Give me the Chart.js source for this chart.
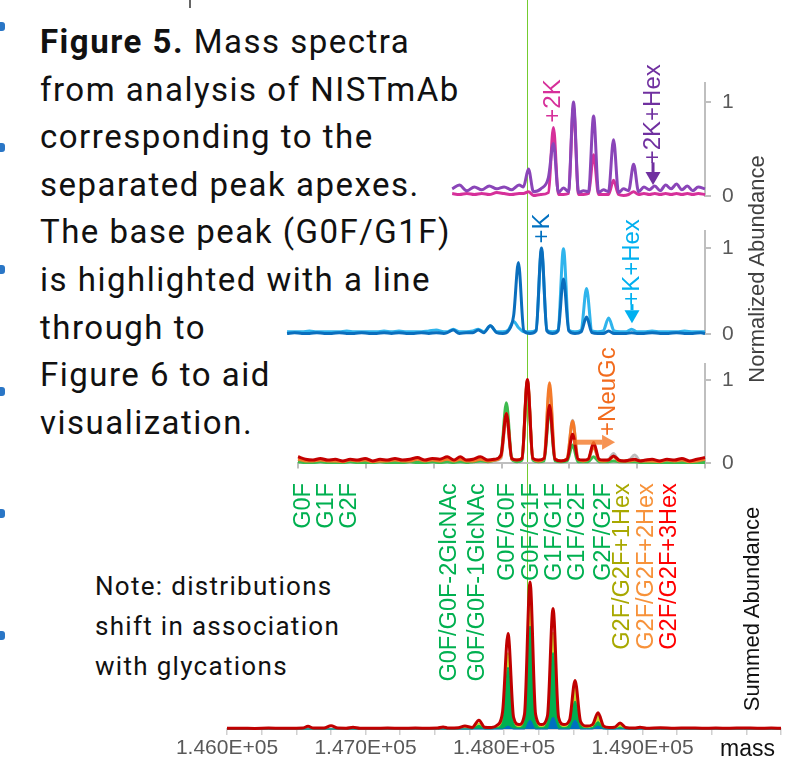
<!DOCTYPE html>
<html>
<head>
<meta charset="utf-8">
<script src="https://cdn.jsdelivr.net/npm/chart.js@4.4.0/dist/chart.umd.min.js"></script>
<style>
  body { margin: 0; background: #fff; }
  #page { position: relative; width: 796px; height: 775px; overflow: hidden; font-family: Roboto, sans-serif; }
  #page canvas { position: absolute; }
  #caption { position: absolute; left: 40px; top: 18px; font-size: 33px; line-height: 47.6px; letter-spacing: 1.5px; color: #111; white-space: nowrap; }
  #caption b { font-weight: 700; }
  #note { position: absolute; left: 95px; top: 566px; font-size: 26px; line-height: 40px; letter-spacing: 1.3px; color: #111; white-space: nowrap; }
  .vtitle { position: absolute; font-family: 'Liberation Sans', Arial, sans-serif; font-size: 22px; white-space: nowrap; transform: translate(-50%, -50%) rotate(-90deg); }
  .mark { position: absolute; left: 0; width: 5px; height: 9px; border-radius: 0 3px 3px 0; background: #2a76c6; }
  #hl { position: absolute; top: 0; width: 1px; height: 729px; background: #74cc30; }
</style>
</head>
<body>
<div id="page">
  <div id="hl"></div>
  <div style="position:absolute;left:189px;top:0;width:2px;height:8px;background:#666"></div>
  <div class="mark" style="top:22px"></div>
  <div class="mark" style="top:143px"></div>
  <div class="mark" style="top:265px"></div>
  <div class="mark" style="top:387px"></div>
  <div class="mark" style="top:509px"></div>
  <div class="mark" style="top:631px"></div>

  <div id="caption"><b>Figure 5.</b> Mass spectra<br>from analysis of NISTmAb<br>corresponding to the<br>separated peak apexes.<br>The base peak (G0F/G1F)<br>is highlighted with a line<br>through to<br>Figure 6 to aid<br>visualization.</div>
  <div id="note">Note: distributions<br>shift in association<br>with glycations</div>

  <canvas id="p1" width="495" height="167" style="left:270px;top:53px"></canvas>
  <canvas id="p2" width="495" height="151" style="left:270px;top:207px"></canvas>
  <canvas id="p3" width="482" height="147" style="left:283px;top:340px"></canvas>
  <canvas id="sum" width="629" height="297" style="left:167px;top:478px"></canvas>

  <div class="vtitle" style="left:757px;top:269px;color:#404040">Normalized Abundance</div>
  <div class="vtitle" style="left:752px;top:609px;color:#111">Summed Abundance</div>
  <div style="position:absolute;left:720px;top:735px;font-family:'Liberation Sans',Arial,sans-serif;font-size:23px;color:#111">mass</div>
</div>

<script>
// ---- top panel: +2K forms (mass in Da, normalized abundance) ----
const massP1 = [147637, 147690, 147745, 147800, 147855, 147910, 147965, 148020, 148075, 148130, 148162, 148199,
  148236, 148290, 148346, 148383, 148420, 148457, 148494, 148531, 148568, 148605, 148642, 148679, 148716, 148752,
  148789, 148826, 148863, 148900, 148937, 148974, 149011, 149050, 149090, 149130, 149170, 149210, 149250, 149290,
  149330, 149370, 149410, 149450, 149500];
const p1Purple = [0.08, 0.12, 0.06, 0.10, 0.07, 0.11, 0.08, 0.10, 0.07, 0.12, 0.10, 0.29,
  0.05, 0.08, 0.20, 0.56, 0.04, 0.09, 0.05, 1.00, 0.04, 0.06, 0.05, 0.85, 0.04, 0.07,
  0.05, 0.60, 0.04, 0.08, 0.06, 0.34, 0.05, 0.10, 0.07, 0.11, 0.06, 0.12, 0.08, 0.13,
  0.07, 0.11, 0.06, 0.10, 0.08];
const p1Magenta = [0.03, 0.02, 0.03, 0.02, 0.03, 0.02, 0.04, 0.03, 0.02, 0.03, 0.03, 0.05,
  0.01, 0.02, 0.04, 0.73, 0.02, 0.02, 0.03, 0.95, 0.02, 0.02, 0.03, 0.44, 0.02, 0.02,
  0.02, 0.17, 0.02, 0.01, 0.02, 0.05, 0.02, 0.03, 0.02, 0.03, 0.02, 0.03, 0.02, 0.03,
  0.02, 0.03, 0.02, 0.03, 0.02];

// ---- middle panel: +K forms ----
const massP2 = [146420, 146475, 146530, 146585, 146640, 146695, 146750, 146805, 146860, 146915, 146970, 147025,
  147080, 147135, 147190, 147245, 147300, 147355, 147410, 147465, 147520, 147575,
  147600, 147645, 147690, 147740, 147790, 147829, 147870, 147918, 147965, 148010, 148050, 148090, 148125, 148165,
  148210, 148255, 148295, 148335, 148376, 148417, 148457, 148497, 148542, 148587, 148627, 148667, 148710, 148750,
  148790, 148830, 148875, 148919, 148959, 148999,
  149050, 149110, 149170, 149230, 149290, 149350, 149410, 149470, 149500];
const p2Dark = [0.01, 0.02, 0.01, 0.01, 0.02, 0.01, 0.01, 0.02, 0.01, 0.01, 0.02, 0.01,
  0.01, 0.02, 0.01, 0.02, 0.01, 0.01, 0.02, 0.01, 0.02, 0.01,
  0.02, 0.05, 0.01, 0.02, 0.02, 0.05, 0.02, 0.10, 0.02, 0.01, 0.04, 0.22, 0.83, 0.04,
  0.01, 0.04, 1.00, 0.04, 0.01, 0.04, 0.64, 0.04, 0.01, 0.03, 0.20, 0.02, 0.01, 0.01,
  0.04, 0.01, 0.01, 0.01, 0.02, 0.01,
  0.01, 0.02, 0.01, 0.01, 0.02, 0.01, 0.01, 0.02, 0.01];
const p2Light = [0.03, 0.03, 0.03, 0.04, 0.03, 0.03, 0.03, 0.03, 0.04, 0.03, 0.03, 0.03,
  0.03, 0.04, 0.03, 0.04, 0.03, 0.03, 0.03, 0.04, 0.05, 0.03,
  0.03, 0.06, 0.03, 0.03, 0.04, 0.06, 0.03, 0.10, 0.03, 0.03, 0.05, 0.15, 0.08, 0.03,
  0.03, 0.05, 0.97, 0.05, 0.03, 0.05, 0.99, 0.05, 0.03, 0.05, 0.53, 0.04, 0.03, 0.04,
  0.19, 0.04, 0.03, 0.03, 0.06, 0.03,
  0.03, 0.04, 0.03, 0.03, 0.03, 0.04, 0.03, 0.03, 0.03];

// ---- lower panel: NeuGc / glycoform forms ----
const massP3 = [146500, 146555, 146610, 146665, 146720, 146775, 146830, 146885, 146940, 146995, 147050, 147105,
  147160, 147215, 147270, 147325, 147380, 147435, 147490, 147545, 147600,
  147650, 147696, 147740, 147790, 147844, 147900, 147950, 147996, 148036, 148076, 148114, 148151, 148191, 148231,
  148272, 148314, 148354, 148394, 148439, 148484, 148524, 148564, 148602, 148639, 148679, 148719, 148752, 148786,
  148826, 148866, 148903, 148941, 148981, 149021, 149060,
  149110, 149165, 149220, 149275, 149330, 149385, 149440, 149500];
const p3Red = [0.08, 0.05, 0.04, 0.06, 0.04, 0.05, 0.03, 0.05, 0.04, 0.06, 0.03, 0.05,
  0.04, 0.06, 0.04, 0.05, 0.07, 0.04, 0.06, 0.05, 0.08,
  0.04, 0.08, 0.04, 0.05, 0.08, 0.04, 0.05, 0.10, 0.60, 0.06, 0.04, 0.06, 1.01, 0.06,
  0.04, 0.06, 0.70, 0.05, 0.03, 0.05, 0.35, 0.05, 0.04, 0.05, 0.25, 0.05, 0.04, 0.04,
  0.09, 0.04, 0.03, 0.04, 0.05, 0.03, 0.04,
  0.05, 0.03, 0.05, 0.04, 0.06, 0.03, 0.05, 0.07];
const p3Orange = [0.05, 0.03, 0.03, 0.04, 0.03, 0.03, 0.02, 0.04, 0.03, 0.04, 0.02, 0.03,
  0.03, 0.04, 0.03, 0.03, 0.05, 0.03, 0.04, 0.03, 0.05,
  0.03, 0.05, 0.03, 0.03, 0.05, 0.03, 0.04, 0.08, 0.60, 0.05, 0.04, 0.06, 1.00, 0.06,
  0.03, 0.06, 0.97, 0.06, 0.03, 0.06, 0.51, 0.05, 0.03, 0.05, 0.20, 0.04, 0.03, 0.04,
  0.08, 0.03, 0.03, 0.03, 0.04, 0.03, 0.03,
  0.03, 0.02, 0.04, 0.03, 0.04, 0.02, 0.03, 0.05];
const p3Green = [0.02, 0.01, 0.01, 0.02, 0.01, 0.01, 0.01, 0.02, 0.01, 0.01, 0.01, 0.02,
  0.01, 0.01, 0.01, 0.02, 0.01, 0.01, 0.02, 0.01, 0.02,
  0.01, 0.02, 0.01, 0.02, 0.03, 0.02, 0.04, 0.10, 0.73, 0.05, 0.02, 0.04, 0.98, 0.04,
  0.02, 0.03, 0.65, 0.03, 0.02, 0.03, 0.22, 0.02, 0.02, 0.02, 0.08, 0.02, 0.02, 0.02,
  0.03, 0.02, 0.02, 0.02, 0.02, 0.01, 0.01,
  0.01, 0.01, 0.01, 0.01, 0.01, 0.01, 0.01, 0.01];
const p3Gray = [0.02, 0.03, 0.02, 0.02, 0.03, 0.02, 0.02, 0.02, 0.03, 0.02, 0.02, 0.03,
  0.02, 0.02, 0.03, 0.02, 0.02, 0.03, 0.02, 0.02, 0.03,
  0.02, 0.03, 0.02, 0.02, 0.04, 0.02, 0.03, 0.06, 0.55, 0.05, 0.03, 0.05, 0.95, 0.05,
  0.03, 0.05, 0.90, 0.05, 0.03, 0.05, 0.52, 0.05, 0.03, 0.04, 0.20, 0.04, 0.03, 0.04,
  0.12, 0.03, 0.03, 0.04, 0.10, 0.03, 0.02,
  0.02, 0.03, 0.02, 0.02, 0.03, 0.02, 0.02, 0.03];

// ---- summed spectrum (relative to the G0F/G1F apex) ----
const massSum = [146000, 146100, 146200, 146300, 146400, 146500, 146545, 146585, 146625, 146700, 146751, 146800,
  146860, 146910, 146960, 147060, 147160, 147260, 147360, 147460, 147520, 147560, 147600, 147670, 147718, 147770,
  147819, 147860, 147910, 147950, 147990, 148029, 148069, 148108, 148148, 148188, 148228, 148270, 148314, 148354,
  148394, 148433, 148473, 148513, 148553, 148596, 148639, 148679, 148719, 148758, 148798, 148838, 148878, 148940,
  148982, 149030, 149130, 149230, 149330, 149430, 149530, 149630, 149730, 149830, 149930, 150000];
const sumTotal = [0.005, 0.005, 0.004, 0.006, 0.005, 0.005, 0.006, 0.018, 0.006, 0.006, 0.022, 0.006,
  0.005, 0.012, 0.005, 0.005, 0.006, 0.005, 0.006, 0.005, 0.006, 0.014, 0.006, 0.008, 0.020, 0.010,
  0.060, 0.012, 0.010, 0.025, 0.120, 0.650, 0.080, 0.030, 0.100, 1.000, 0.100, 0.030, 0.090, 0.820,
  0.080, 0.030, 0.060, 0.330, 0.050, 0.020, 0.030, 0.110, 0.020, 0.010, 0.012, 0.040, 0.010, 0.006,
  0.012, 0.005, 0.008, 0.005, 0.007, 0.005, 0.006, 0.005, 0.007, 0.005, 0.006, 0.005];
const sumYellow = [0, 0, 0, 0, 0, 0, 0, 0, 0, 0, 0, 0,
  0, 0, 0, 0, 0, 0, 0, 0, 0, 0, 0, 0, 0.010, 0,
  0.040, 0.006, 0.005, 0.015, 0.090, 0.520, 0.060, 0.020, 0.080, 0.860, 0.080, 0.020, 0.070, 0.660,
  0.060, 0.020, 0.050, 0.280, 0.040, 0.010, 0.020, 0.090, 0.010, 0.005, 0.006, 0.030, 0.005, 0,
  0.006, 0, 0, 0, 0, 0, 0, 0, 0, 0, 0, 0];
const sumGreen = [0, 0, 0, 0, 0, 0, 0, 0, 0, 0, 0, 0,
  0, 0, 0, 0, 0, 0, 0, 0, 0, 0, 0, 0, 0, 0,
  0.025, 0, 0, 0.010, 0.050, 0.420, 0.040, 0.010, 0.050, 0.700, 0.050, 0.010, 0.050, 0.520,
  0.040, 0.010, 0.035, 0.190, 0.025, 0.005, 0.010, 0.050, 0.005, 0, 0, 0.012, 0, 0,
  0, 0, 0, 0, 0, 0, 0, 0, 0, 0, 0, 0];
const sumBlue = [0, 0, 0, 0, 0, 0, 0, 0, 0, 0, 0, 0,
  0, 0, 0, 0, 0, 0, 0, 0, 0, 0, 0, 0, 0, 0,
  0, 0, 0, 0, 0, 0.020, 0, 0, 0, 0.060, 0, 0, 0, 0.080,
  0, 0, 0, 0.060, 0, 0, 0, 0.020, 0, 0, 0, 0, 0, 0,
  0, 0, 0, 0, 0, 0, 0, 0, 0, 0, 0, 0];

// glycoform labels over the summed spectrum
const glyLabels = ['G0F', 'G1F', 'G2F', 'G0F/G0F-2GlcNAc', 'G0F/G0F-1GlcNAc', 'G0F/G0F', 'G0F/G1F',
  'G1F/G1F', 'G1F/G2F', 'G2F/G2F', 'G2F/G2F+1Hex', 'G2F/G2F+2Hex', 'G2F/G2F+3Hex'];
const glyMass = [146549, 146715, 146888, 147610, 147812, 148022, 148202, 148368, 148534, 148715, 148859, 149032, 149198];
const glyColors = ['#00b050', '#00b050', '#00b050', '#00b050', '#00b050', '#00b050', '#00b050',
  '#00b050', '#00b050', '#00b050', '#a8a800', '#f7923a', '#ff0000'];

const normTicks = [0, 1];
const massTickLabels = [146000, 147000, 148000, 149000];
const baseMass = 148191; // G0F/G1F apex, highlighted with the vertical line

Chart.defaults.font.family = "'Liberation Sans', Arial, sans-serif";
Chart.defaults.animation = false;

const xy = (xs, ys) => xs.map((x, i) => ({ x: x, y: ys[i] }));

function trace(xs, ys, color, more) {
  return Object.assign({
    data: xy(xs, ys), borderColor: color, backgroundColor: color, borderWidth: 3,
    pointRadius: 0, cubicInterpolationMode: 'monotone', fill: false, clip: false
  }, more || {});
}

// rotated text + arrows, placed in data units through the chart scales
function notes(labels, arrows, font) {
  return {
    id: 'notes',
    afterDatasetsDraw(chart) {
      const ctx = chart.ctx, sx = chart.scales.x, sy = chart.scales.y;
      ctx.save();
      arrows.forEach(a => {
        const x1 = sx.getPixelForValue(a.x1), y1 = sy.getPixelForValue(a.y1);
        const x2 = sx.getPixelForValue(a.x2), y2 = sy.getPixelForValue(a.y2);
        const ang = Math.atan2(y2 - y1, x2 - x1), c = Math.cos(ang), s = Math.sin(ang);
        const hl = 13, hw = 7.5;
        ctx.strokeStyle = a.color; ctx.fillStyle = a.color; ctx.lineWidth = a.width;
        ctx.beginPath(); ctx.moveTo(x1, y1); ctx.lineTo(x2 - hl * c, y2 - hl * s); ctx.stroke();
        ctx.beginPath(); ctx.moveTo(x2, y2);
        ctx.lineTo(x2 - hl * c - hw * s, y2 - hl * s + hw * c);
        ctx.lineTo(x2 - hl * c + hw * s, y2 - hl * s - hw * c);
        ctx.closePath(); ctx.fill();
      });
      labels.forEach(l => {
        ctx.save();
        ctx.translate(sx.getPixelForValue(l.x), sy.getPixelForValue(l.y));
        ctx.rotate(-Math.PI / 2);
        ctx.font = font;
        ctx.fillStyle = l.color;
        ctx.textAlign = l.align || 'left';
        ctx.textBaseline = 'middle';
        ctx.fillText(l.text, 0, 0);
        ctx.restore();
      });
      ctx.restore();
    }
  };
}

function normAxis() {
  return {
    position: 'right', min: 0, max: 1.2,
    afterFit: s => { s.width = 60; },
    afterBuildTicks: s => { s.ticks = normTicks.map(v => ({ value: v })); },
    border: { color: '#bfbfbf', width: 2 },
    grid: { drawOnChartArea: false, tickLength: 6, color: '#bfbfbf', lineWidth: 2 },
    ticks: { padding: 11, color: '#595959', font: { size: 21 } }
  };
}

const noLegend = { legend: { display: false }, tooltip: { enabled: false } };

new Chart(document.getElementById('p1'), {
  type: 'line',
  data: { datasets: [trace(massP1, p1Purple, '#8a45b8'), trace(massP1, p1Magenta, '#d6309a')] },
  options: {
    responsive: false, plugins: noLegend,
    layout: { padding: { left: 15, top: 30, right: 0, bottom: 15 } },
    scales: { x: { type: 'linear', min: 146405, max: 149500, display: false }, y: normAxis() }
  },
  plugins: [notes(
    [{ text: '+2K', x: 148380, y: 0.78, color: '#d6309a' },
     { text: '+2K+Hex', x: 149117, y: 0.34, color: '#7030a0' }],
    [{ x1: 149117, y1: 0.36, x2: 149117, y2: 0.12, color: '#7030a0', width: 3 }],
    "24px 'Liberation Sans', Arial, sans-serif")]
});

new Chart(document.getElementById('p2'), {
  type: 'line',
  data: { datasets: [trace(massP2, p2Dark, '#0a6ebd'), trace(massP2, p2Light, '#2fb4ec')] },
  options: {
    responsive: false, plugins: noLegend,
    layout: { padding: { left: 15, top: 15, right: 0, bottom: 15 } },
    scales: { x: { type: 'linear', min: 146405, max: 149500, display: false }, y: normAxis() }
  },
  plugins: [notes(
    [{ text: '+K', x: 148298, y: 1.05, color: '#0070c0' },
     { text: '+K+Hex', x: 148962, y: 0.33, color: '#00b0f0' }],
    [{ x1: 148962, y1: 0.35, x2: 148962, y2: 0.13, color: '#00b0f0', width: 3 }],
    "24px 'Liberation Sans', Arial, sans-serif")]
});

const p3 = new Chart(document.getElementById('p3'), {
  type: 'line',
  data: { datasets: [trace(massP3, p3Red, '#c40000'), trace(massP3, p3Orange, '#f47a2a'),
                     trace(massP3, p3Green, '#3dbb4e'), trace(massP3, p3Gray, '#bdbdbd')] },
  options: {
    responsive: false, plugins: noLegend,
    layout: { padding: { left: 15, top: 15, right: 0, bottom: 10 } },
    scales: {
      x: {
        type: 'linear', min: 146500, max: 149500,
        border: { color: '#bfbfbf', width: 2 },
        grid: { drawOnChartArea: false, tickLength: 5, color: '#bfbfbf', lineWidth: 2 },
        ticks: { display: false, stepSize: 500 }
      },
      y: normAxis()
    }
  },
  plugins: [notes(
    [{ text: '+NeuGc', x: 148785, y: 0.33, color: '#f26b1d' }],
    [{ x1: 148527, y1: 0.255, x2: 148837, y2: 0.255, color: 'rgba(244,120,40,0.8)', width: 5 }],
    "24px 'Liberation Sans', Arial, sans-serif")]
});

new Chart(document.getElementById('sum'), {
  type: 'line',
  data: {
    datasets: [
      trace(massSum, sumTotal, '#c00000'),
      trace(massSum, sumBlue, '#0070c0', { fill: 'origin', borderWidth: 1 }),
      trace(massSum, sumGreen, '#00b050', { fill: 'origin', borderWidth: 1 }),
      trace(massSum, sumYellow, '#bfd730', { fill: 'origin', borderWidth: 1 })
    ]
  },
  options: {
    responsive: false, plugins: noLegend,
    layout: { padding: { left: 60, top: 82, right: 15, bottom: 15 } },
    scales: {
      x: {
        type: 'linear', min: 146000, max: 150000,
        afterFit: s => { s.height = 31; },
        border: { color: '#d0d0d0', width: 2 },
        grid: { drawOnChartArea: false, tickLength: 6, color: '#d0d0d0', lineWidth: 1.5 },
        ticks: {
          stepSize: 250, autoSkip: false, maxRotation: 0, padding: 1, color: '#595959', font: { size: 21 },
          callback: v => massTickLabels.includes(v) ? (v / 1e5).toFixed(3) + 'E+05' : ''
        }
      },
      y: { display: false, min: 0, max: 1.15 }
    }
  },
  plugins: [notes(
    glyLabels.map((t, i) => ({ text: t, x: glyMass[i], y: 1.673, color: glyColors[i], align: 'right' })),
    [], "23.5px 'Liberation Sans', Arial, sans-serif")]
});

// vertical highlight through the base peak, placed with the lower panel's mass scale
const hl = document.getElementById('hl');
hl.style.left = (283 + p3.scales.x.getPixelForValue(baseMass) - 0.5) + 'px';
</script>
</body>
</html>
